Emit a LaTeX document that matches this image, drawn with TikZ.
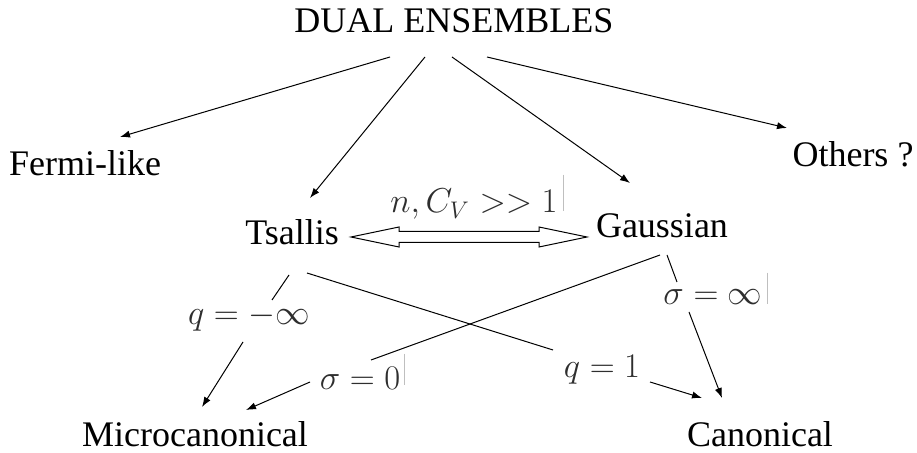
\documentclass[tikz,border=0pt]{standalone}
\usepackage{fontspec}
\setmainfont{Liberation Serif}
\usetikzlibrary{arrows.meta,calc}
\begin{document}
\begin{tikzpicture}[x=0.5pt,y=-0.5pt,
  lbl/.style={anchor=base,inner sep=0pt,font=\fontsize{18}{22}\selectfont},
  mlbl/.style={anchor=base,inner sep=0pt,font=\fontsize{18}{22}\selectfont,text=black!82},
  conn/.style={line width=0.5pt},
  arr/.style={line width=0.5pt,-{Latex[length=5pt,width=3.6pt]}},
  cursor/.style={line width=0.4pt,black!25}]
\useasboundingbox (0,0) rectangle (917,453);
\fill[white] (0,0) rectangle (917,453);
% nodes
\node[lbl] (dual) at (454,33) {DUAL ENSEMBLES};
\node[lbl] (fermi) at (85,176) {Fermi-like};
\node[lbl] (others) at (853,167) {Others ?};
\node[lbl] (tsallis) at (292,245) {Tsallis};
\node[lbl] (gauss) at (662,238) {Gaussian};
\node[lbl] (micro) at (195,447) {Microcanonical};
\node[lbl] (canon) at (760,447) {Canonical};
\node[mlbl] (cv) at (474,213) {$n,C_V>>1$};
\node[mlbl] (qm) at (249,325) {$q=-\infty$};
\node[mlbl] (q1) at (602,378) {$q=1$};
\node[mlbl] (s0) at (360,390) {$\sigma=0$};
\node[mlbl] (sinf) at (713,305) {$\sigma=\infty$};
% top arrows
\draw[arr] ($(dual.base)+(-64,24)$) -- ($(fermi.base)+(35,-39)$);
\draw[arr] ($(dual.base)+(-29,24)$) -- ($(tsallis.base)+(18,-47)$);
\draw[arr] ($(dual.base)+(-2,24)$) -- ($(gauss.base)+(-32,-55)$);
\draw[arr] ($(dual.base)+(33,24)$) -- ($(others.base)+(-66,-39)$);
% double block arrow
\coordinate (L) at ($(tsallis.base)+(59,-8)$);
\coordinate (R) at ($(gauss.base)+(-75,-1)$);
\draw[line width=0.5pt,fill=white] (L) -- ($(L)+(48,-10)$) -- ($(L)+(48,-5.5)$)
  -- ($(R)+(-48,-5.5)$) -- ($(R)+(-48,-10)$) -- (R) -- ($(R)+(-48,10)$)
  -- ($(R)+(-48,5.5)$) -- ($(L)+(48,5.5)$) -- ($(L)+(48,10)$) -- cycle;
% Tsallis -> Microcanonical
\draw[conn] ($(tsallis.base)+(-3,30)$) -- ($(qm.base)+(23,-25)$);
\draw[arr] ($(qm.base)+(-6,17)$) -- ($(micro.base)+(7,-40)$);
% Tsallis -> Canonical
\draw[conn] ($(tsallis.base)+(15,28)$) -- ($(q1.base)+(-49,-28)$);
\draw[arr] ($(q1.base)+(48,4)$) -- ($(canon.base)+(-58,-49)$);
% Gaussian -> Microcanonical
\draw[conn] ($(gauss.base)+(-2,17)$) -- ($(s0.base)+(11,-30)$);
\draw[arr] ($(s0.base)+(-50,-8)$) -- ($(micro.base)+(51,-37)$);
% Gaussian -> Canonical
\draw[conn] ($(gauss.base)+(5,17)$) -- ($(sinf.base)+(-36,-23)$);
\draw[arr] ($(sinf.base)+(-24,7)$) -- ($(canon.base)+(-38,-49)$);
% cursor marks
\draw[cursor] ($(cv.east)+(5,-30)$) -- ($(cv.east)+(5,6)$);
\draw[cursor] ($(s0.east)+(4,-25)$) -- ($(s0.east)+(4,6)$);
\draw[cursor] ($(sinf.east)+(4,-25)$) -- ($(sinf.east)+(4,6)$);
\end{tikzpicture}
\end{document}
